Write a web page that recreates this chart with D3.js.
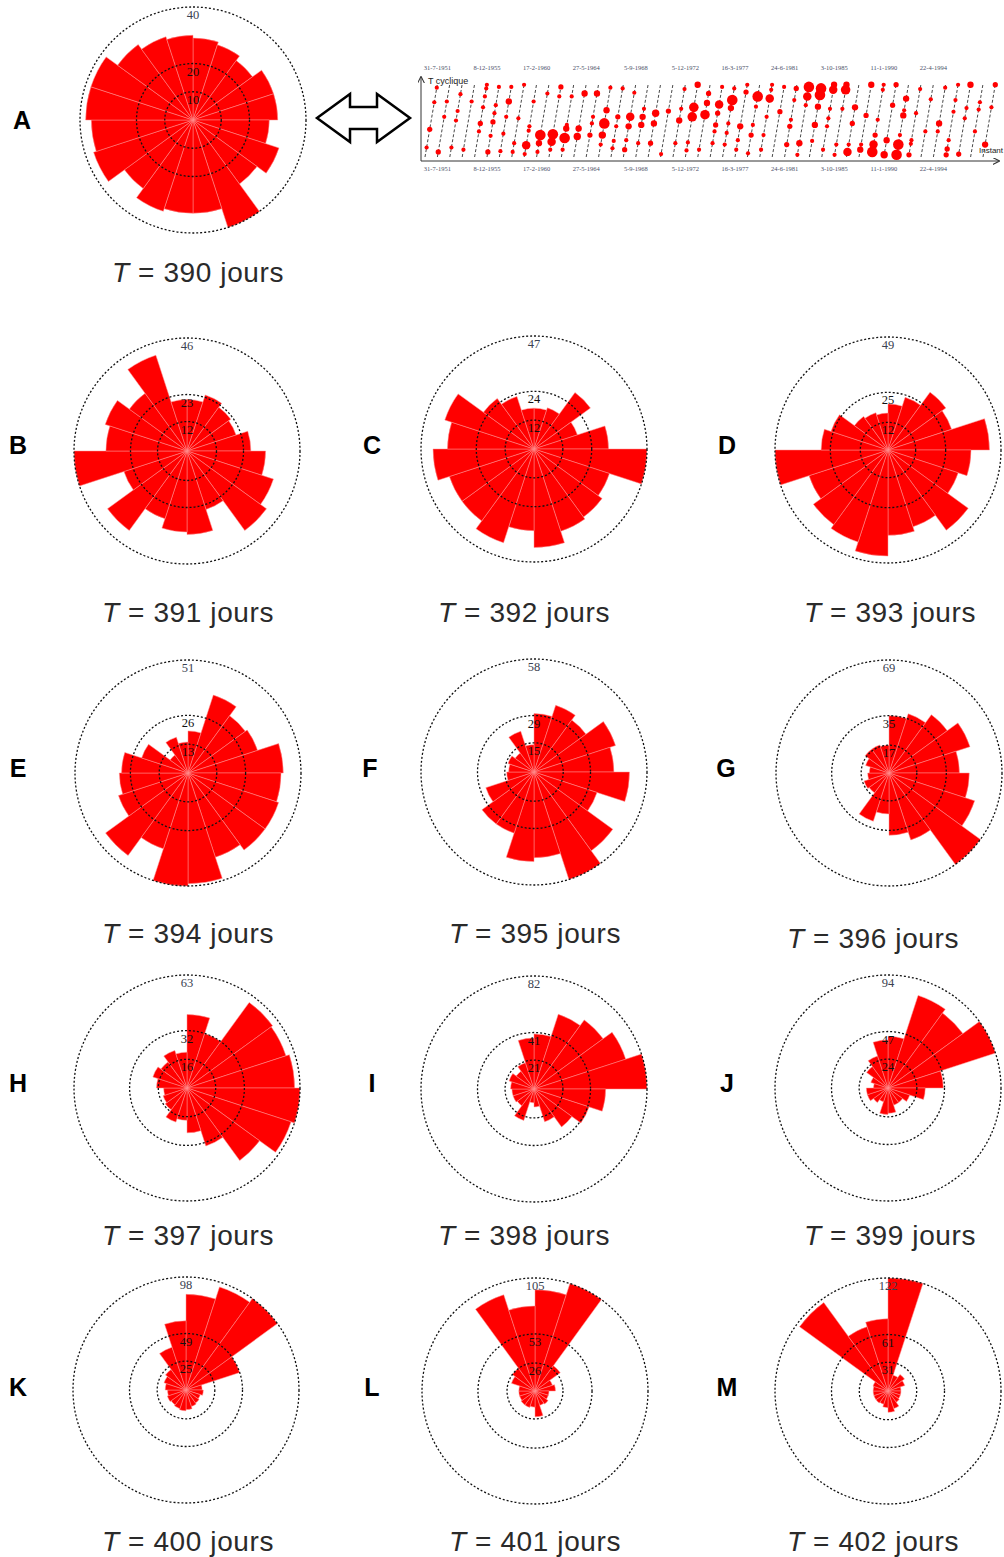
<!DOCTYPE html>
<html><head><meta charset="utf-8">
<script src="https://cdn.jsdelivr.net/npm/d3@7"></script>
<style>html,body{margin:0;padding:0;background:#fff;}svg{display:block;}</style>
</head><body>
<svg id="chart" width="1004" height="1557"></svg>
<script>
// ---------- DATA ----------
const panelLetters = ["A","B","C","D","E","F","G","H","I","J","K","L","M"];
const periods = [390,391,392,393,394,395,396,397,398,399,400,401,402];
const ringTicks = [[10,20,40],[12,23,46],[12,24,47],[12,25,49],[13,26,51],[15,29,58],[17,35,69],[16,32,63],[21,41,82],[24,47,94],[25,49,98],[26,53,105],[31,61,122]];
const roseA = [29,28,26,30,30,27,32,28,40,33,33,34,30,37,36,38,38,33,31,30];
const roseB = [21,24,22,21,26,32,37,40,25,34,33,29,40,27,46,33,35,29,41,21];
const roseC = [17,18,29,19,31,47,33,35,36,41,34,41,37,37,42,36,39,26,23,17];
const roseD = [20,24,31,29,44,36,32,43,35,37,46,42,40,36,49,29,26,18,17,16];
const roseE = [19,37,32,33,43,42,43,43,40,50,51,36,46,33,31,30,22,10,17,14];
const roseF = [30,36,33,44,41,49,34,50,58,44,46,33,33,26,14,13,14,12,22,14];
const roseG = [35,38,44,52,43,49,55,69,43,38,25,31,15,16,13,12,15,18,18,17];
const roseH = [41,32,59,58,60,63,61,50,34,25,18,20,15,14,13,17,20,18,22,20];
const roseI = [40,57,62,70,82,52,42,34,25,13,10,24,15,16,16,17,19,16,20,37];
const roseJ = [43,81,77,94,46,31,19,15,15,21,22,12,15,18,18,12,15,22,28,40];
const roseK = [83,94,98,49,14,15,13,14,15,17,18,17,16,17,16,18,20,22,39,60];
const roseL = [94,105,29,17,19,13,13,15,14,24,15,16,16,15,15,15,23,26,94,79];
const roseM = [122,18,22,19,14,14,14,15,20,23,18,15,16,16,16,16,17,118,73,78];
const roses = [roseA,roseB,roseC,roseD,roseE,roseF,roseG,roseH,roseI,roseJ,roseK,roseL,roseM];

// strip chart (cycle index, phase within cycle, magnitude)
const cycleCount = 46;
const dateLabels = ["31-7-1951","8-12-1955","17-2-1960","27-5-1964","5-9-1968","5-12-1972","16-3-1977","24-6-1981","3-10-1985","11-1-1990","22-4-1994"];
const dateCycles = [1,5,9,13,17,21,25,29,33,37,41];
const stripDots = [
[0,.95,2],[0,.75,2],[0,.38,2.5],[0,.13,2],
[1,.76,2],[1,.55,2],[1,.07,2.5],
[2,.86,2],[2,.63,2],[2,.5,2],[2,.13,2],
[3,.76,2],[3,.1,2],
[4,.99,2],[4,.94,2],[4,.83,2],[4,.68,2],[4,.46,2.5],[4,.35,2],
[5,.96,2],[5,.71,2],[5,.6,2],[5,.48,2.5],[5,.29,2],[5,.07,2.5],
[6,.96,2],[6,.76,3],[6,.55,2],[6,.32,2],[6,.08,2],
[7,.99,2],[7,.53,2],[7,.19,2],[7,.07,2],
[8,.76,2],[8,.42,2],[8,.36,2],[8,.16,4],[8,.04,2],
[9,.87,2],[9,.3,5],[9,.19,3],[9,.07,2],
[10,.96,2.5],[10,.83,2],[10,.31,5],[10,.21,4],[10,.1,2],
[11,.83,2],[11,.44,2],[11,.39,3],[11,.26,5],[11,.1,2],
[12,.87,3],[12,.39,3],[12,.28,3.5],
[13,.87,3],[13,.55,2],[13,.46,2],[13,.3,2.5],
[14,.95,2],[14,.64,3],[14,.46,5],[14,.3,3.5],[14,.17,2],
[15,.94,2],[15,.55,2.5],[15,.42,2],[15,.22,2],[15,.12,2],
[16,.88,2],[16,.55,4],[16,.42,3],[16,.23,2],[16,.1,2.5],
[17,.66,2],[17,.55,3],[17,.44,3],[17,.19,2],
[18,.6,3.5],[18,.46,3],[18,.19,2.5],
[19,.63,2.5],[19,.04,2],
[20,.93,2],[20,.66,2],[20,.5,3],[20,.19,2],
[21,.99,3],[21,.68,4.5],[21,.55,4.5],[21,.2,2],[21,.09,2],
[22,.87,2.5],[22,.74,3],[22,.58,4.5],[22,.1,2],
[23,.96,2],[23,.72,4],[23,.6,2.5],[23,.44,2.5],[23,.35,2],[23,.19,2],
[24,.94,2],[24,.78,5],[24,.67,3],[24,.46,2],[24,.33,2],[24,.17,2],
[25,.99,2],[25,.89,2.5],[25,.42,3],[25,.23,2],[25,.1,2],
[26,.83,5],[26,.69,2],[26,.44,2],[26,.3,2.5],[26,.05,2],
[27,.99,2],[27,.92,2],[27,.8,4],[27,.55,2],[27,.3,2],[27,.1,2],
[28,.96,2],[28,.62,2.5],
[29,.94,2.5],[29,.78,2],[29,.51,2],[29,.42,2.5],[29,.17,2.5],
[30,.96,5],[30,.83,4],[30,.71,2],[30,.19,3],[30,.03,2],
[31,.94,5],[31,.85,5],[31,.69,3],[31,.44,3],[31,.22,2],
[32,.99,3],[32,.92,4],[32,.66,2],[32,.53,2],[32,.42,2],[32,.1,2],
[33,.99,3],[33,.92,4.5],[33,.66,2],[33,.17,2],[33,.03,2],
[34,.68,3],[34,.46,2.5],[34,.17,2],[34,.07,4],
[35,.99,3],[35,.57,2.5],[35,.17,2],[35,.1,3],
[36,.99,2],[36,.92,2],[36,.51,2],[36,.3,2.5],[36,.17,4],[36,.07,5],
[37,.99,2.5],[37,.71,2.5],[37,.23,3],[37,.03,3.5],
[38,.8,3],[38,.64,2],[38,.57,3],[38,.3,2],[38,.17,5],[38,.03,5],
[39,.93,2],[39,.6,2],[39,.23,2],[39,.18,2],[39,.03,2.5],
[40,.79,2],[40,.35,2],
[41,.95,2],[41,.46,3],[41,.35,2],
[42,.99,2],[42,.78,2],[42,.62,2],[42,.23,2],[42,.11,2.5],[42,.03,2.5],
[43,.99,3],[43,.67,2],[43,.53,2],[43,.04,2.5],
[44,.75,2],[44,.65,2],[44,.35,2],
[45,.99,2.5],[45,.68,2],[45,.17,3]
];

// ---------- LAYOUT ----------
const layout = [
 {cx:193,cy:120,lx:22,ly:120,tx:198,ty:282},
 {cx:187,cy:451,lx:18,ly:445,tx:188,ty:622},
 {cx:534,cy:449,lx:372,ly:445,tx:524,ty:622},
 {cx:888,cy:450,lx:727,ly:445,tx:890,ty:622},
 {cx:188,cy:773,lx:18,ly:768,tx:188,ty:943},
 {cx:534,cy:772,lx:370,ly:768,tx:535,ty:943},
 {cx:889,cy:773,lx:726,ly:768,tx:873,ty:948},
 {cx:187,cy:1088,lx:18,ly:1083,tx:188,ty:1245},
 {cx:534,cy:1089,lx:372,ly:1083,tx:524,ty:1245},
 {cx:888,cy:1088,lx:727,ly:1083,tx:890,ty:1245},
 {cx:186,cy:1390,lx:18,ly:1387,tx:188,ty:1551},
 {cx:535,cy:1391,lx:372,ly:1387,tx:535,ty:1551},
 {cx:888,cy:1391,lx:727,ly:1387,tx:873,ty:1551}
];
const R = 113;
const svg = d3.select("#chart");

roses.forEach((vals,idx)=>{
  const L = layout[idx];
  const ticks = ringTicks[idx];
  const rmax = ticks[2];
  const r = d3.scaleLinear().domain([0,rmax]).range([0,R]);
  const ang = d3.scaleLinear().domain([0,vals.length]).range([0,2*Math.PI]);
  const g = svg.append("g").attr("transform",`translate(${L.cx},${L.cy})`);
  const arc = d3.arc().innerRadius(0);
  g.selectAll("path.sec").data(vals).join("path").attr("class","sec")
    .attr("d",(d,i)=>arc({outerRadius:r(d),startAngle:ang(i),endAngle:ang(i+1)}))
    .attr("fill","#ff0000").attr("stroke","#ff9090").attr("stroke-width",0.5);
  g.selectAll("circle.ring").data(ticks).join("circle").attr("class","ring")
    .attr("r",d=>r(d)).attr("fill","none").attr("stroke","#111")
    .attr("stroke-width",1.3).attr("stroke-dasharray","2,2");
  g.selectAll("text.tick").data(ticks).join("text").attr("class","tick")
    .attr("x",0).attr("y",d=>-r(d)+12).attr("text-anchor","middle")
    .attr("font-family","'Liberation Serif','Times New Roman',serif").attr("font-size",12.5)
    .attr("fill",(d,i)=>i===2?"#3a4150":"#111").text(d=>d);
  svg.append("text").attr("x",L.lx).attr("y",L.ly).attr("text-anchor","middle")
    .attr("dominant-baseline","central")
    .attr("font-family","'Liberation Sans',Arial,sans-serif").attr("font-weight","bold")
    .attr("font-size",25).attr("fill","#000").text(panelLetters[idx]);
  const t = svg.append("text").attr("x",L.tx).attr("y",L.ty).attr("text-anchor","middle")
    .attr("font-family","'Liberation Sans',Arial,sans-serif").attr("font-size",28)
    .attr("letter-spacing",0.6).attr("fill","#2a2a2a");
  t.append("tspan").attr("font-style","italic").text("T");
  t.append("tspan").text(" = "+periods[idx]+" jours");
});

// ---------- double arrow ----------
(function(){
  const x0=317,x1=410,cy=118,hl=33,hh=24,sh=11;
  const pts=[[x0,cy],[x0+hl,cy-hh],[x0+hl,cy-sh],[x1-hl,cy-sh],[x1-hl,cy-hh],[x1,cy],[x1-hl,cy+hh],[x1-hl,cy+sh],[x0+hl,cy+sh],[x0+hl,cy+hh]];
  svg.append("path").attr("d",d3.line()(pts)+"Z").attr("fill","#fff").attr("stroke","#000").attr("stroke-width",2.5).attr("stroke-linejoin","miter");
})();

// ---------- strip chart ----------
const xs = d3.scaleLinear().domain([0,cycleCount]).range([425,425+12.4*cycleCount]);
const ys = d3.scaleLinear().domain([0,1]).range([157,84]);
const rs = d3.scaleLinear().domain([2,5]).range([2.1,5.3]);
const sg = svg.append("g");
sg.selectAll("line.cyc").data(d3.range(cycleCount)).join("line").attr("class","cyc")
  .attr("x1",k=>xs(k)).attr("y1",ys(0)).attr("x2",k=>xs(k+1)).attr("y2",ys(1))
  .attr("stroke","#333").attr("stroke-width",0.9).attr("stroke-dasharray","3,2");
sg.selectAll("circle.dot").data(stripDots).join("circle").attr("class","dot")
  .attr("cx",d=>xs(d[0]+d[1])).attr("cy",d=>ys(d[1])).attr("r",d=>rs(d[2]))
  .attr("fill","#ff0000");
// axes
const defs = svg.append("defs");
defs.append("marker").attr("id","ah").attr("viewBox","0 0 10 10").attr("refX",9).attr("refY",5)
  .attr("markerWidth",7).attr("markerHeight",7).attr("orient","auto")
  .append("path").attr("d","M0,0L10,5L0,10").attr("fill","none").attr("stroke","#333").attr("stroke-width",1.5);
sg.append("line").attr("x1",421).attr("y1",161).attr("x2",421).attr("y2",77)
  .attr("stroke","#333").attr("stroke-width",1).attr("marker-end","url(#ah)");
sg.append("line").attr("x1",421).attr("y1",161).attr("x2",999).attr("y2",161)
  .attr("stroke","#333").attr("stroke-width",1).attr("marker-end","url(#ah)");
sg.append("text").attr("x",428).attr("y",84).attr("font-family","'Liberation Sans',Arial,sans-serif")
  .attr("font-size",9).attr("fill","#222").text("T cyclique");
sg.append("text").attr("x",1003).attr("y",153).attr("text-anchor","end")
  .attr("font-family","'Liberation Sans',Arial,sans-serif")
  .attr("font-size",8).attr("fill","#222").text("Instant");
[70,171].forEach(yy=>{
  sg.selectAll(null).data(dateLabels).join("text")
    .attr("x",(d,i)=>xs(dateCycles[i])).attr("y",yy).attr("text-anchor","middle")
    .attr("font-family","'Liberation Serif','Times New Roman',serif").attr("font-size",6.5)
    .attr("fill","#4a5068").text(d=>d);
});
</script>
</body></html>
